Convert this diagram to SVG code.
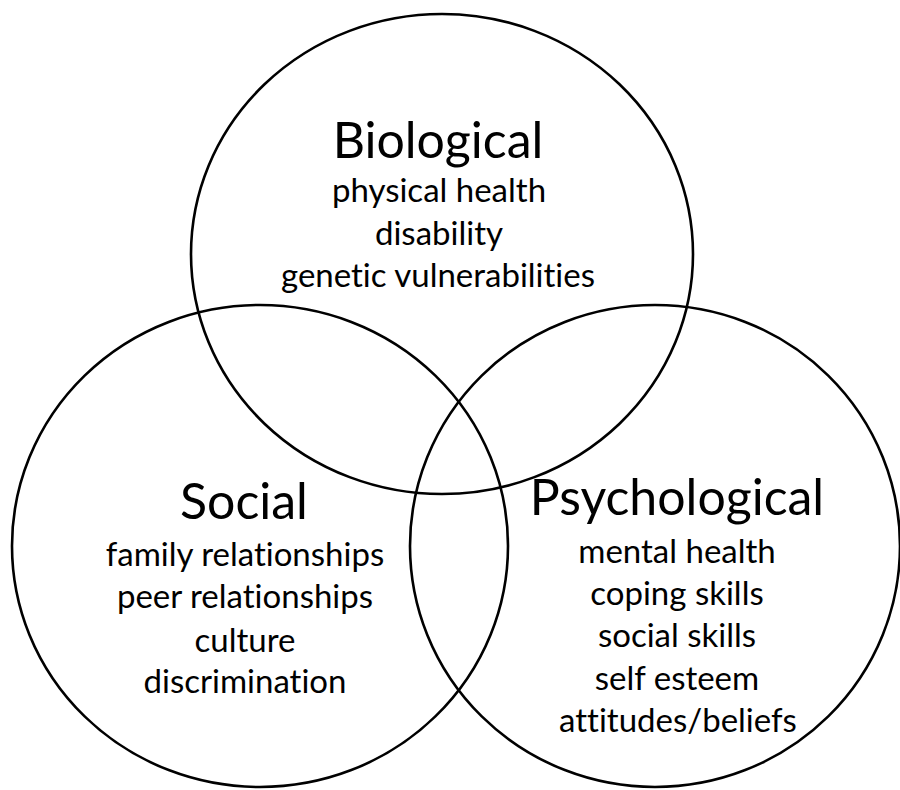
<svg xmlns="http://www.w3.org/2000/svg" width="900" height="790" viewBox="0 0 900 790">
  <style>
    .ring { fill: none; stroke: #000; stroke-width: 2.6; }
    text { font-family: "Lato", "Open Sans", sans-serif; fill: #000; text-anchor: middle; font-variant-ligatures: none; font-feature-settings: "liga" 0, "dlig" 0; }
    .title { font-size: 50px; }
    .item { font-size: 33px; }
  </style>
  <rect width="900" height="790" fill="#fff"/>
  <g id="rings">
    <ellipse id="ring-biological" class="ring" cx="442" cy="254" rx="251" ry="240"/>
    <ellipse id="ring-social" class="ring" cx="260" cy="546" rx="248" ry="241"/>
    <ellipse id="ring-psychological" class="ring" cx="655" cy="546" rx="245" ry="241"/>
  </g>
  <g id="biological">
    <text class="title" x="438" y="158">Biological</text>
    <text class="item" x="439" y="202">physical health</text>
    <text class="item" x="439" y="245">disability</text>
    <text class="item" x="438" y="287">genetic vulnerabilities</text>
  </g>
  <g id="social">
    <text class="title" x="244" y="519">Social</text>
    <text class="item" x="245" y="566">family relationships</text>
    <text class="item" x="245" y="608">peer relationships</text>
    <text class="item" x="245" y="652">culture</text>
    <text class="item" x="245" y="693">discrimination</text>
  </g>
  <g id="psychological">
    <text class="title" x="677" y="515">Psychological</text>
    <text class="item" x="677" y="563">mental health</text>
    <text class="item" x="677" y="605">coping skills</text>
    <text class="item" x="677" y="647">social skills</text>
    <text class="item" x="677" y="690">self esteem</text>
    <text class="item" x="678" y="732">attitudes/beliefs</text>
  </g>
</svg>
